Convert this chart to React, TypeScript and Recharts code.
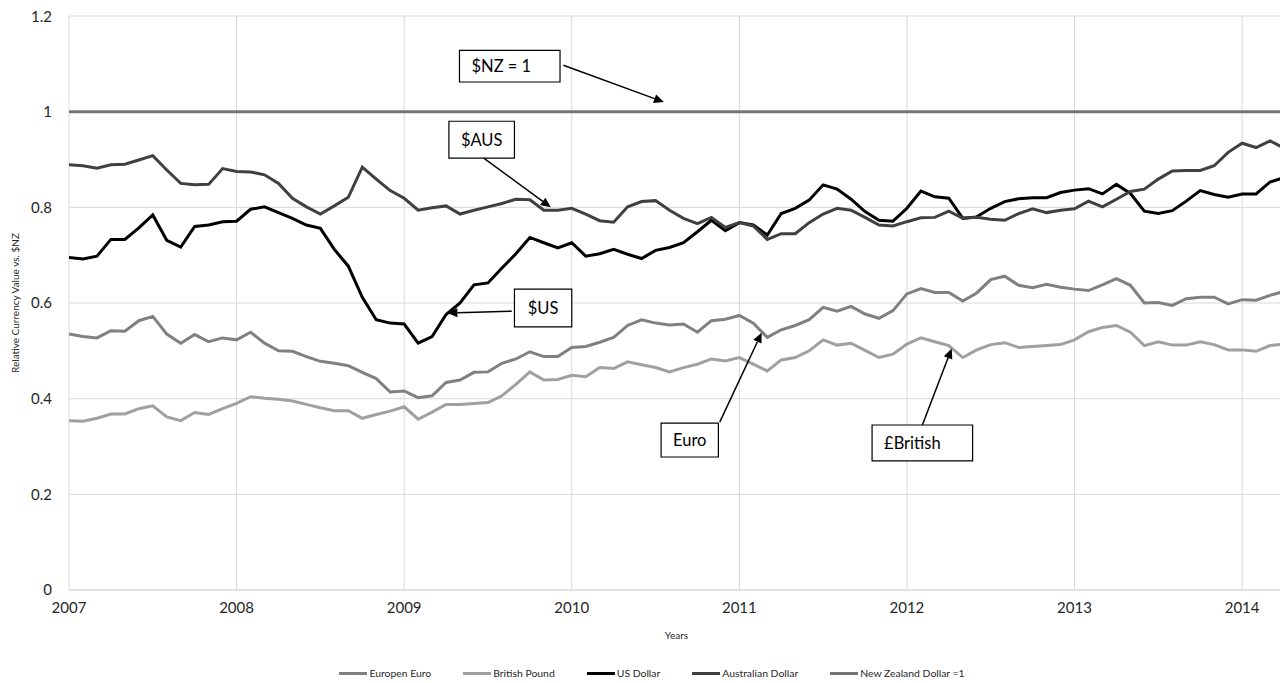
import {
  LineChart,
  Line,
  XAxis,
  YAxis,
  CartesianGrid,
  Legend,
  ReferenceArea,
  ReferenceLine,
} from "recharts";

// monthly rates, Jan 2007 .. Apr 2014 (value of 1 $NZ in each currency)
const euro = [
  0.535, 0.530, 0.527, 0.542, 0.541, 0.563, 0.572, 0.535, 0.516, 0.534, 0.519, 0.527,
  0.523, 0.539, 0.516, 0.500, 0.499, 0.488, 0.478, 0.474, 0.469, 0.455, 0.442, 0.414,
  0.416, 0.402, 0.406, 0.434, 0.439, 0.455, 0.456, 0.474, 0.483, 0.498, 0.488, 0.488,
  0.507, 0.509, 0.518, 0.528, 0.553, 0.565, 0.558, 0.554, 0.556, 0.539, 0.563, 0.566,
  0.574, 0.558, 0.528, 0.544, 0.553, 0.565, 0.591, 0.583, 0.593, 0.577, 0.568, 0.584,
  0.619, 0.630, 0.622, 0.622, 0.604, 0.621, 0.649, 0.656, 0.637, 0.632, 0.639, 0.633,
  0.629, 0.626, 0.638, 0.651, 0.637, 0.600, 0.601, 0.595, 0.609, 0.612, 0.612, 0.598,
  0.607, 0.606, 0.616, 0.624,
];

const pound = [
  0.354, 0.353, 0.359, 0.368, 0.368, 0.379, 0.385, 0.362, 0.354, 0.371, 0.367, 0.379,
  0.390, 0.404, 0.401, 0.399, 0.395, 0.388, 0.381, 0.375, 0.375, 0.359, 0.367, 0.374,
  0.383, 0.357, 0.372, 0.388, 0.388, 0.390, 0.392, 0.406, 0.430, 0.456, 0.439, 0.440,
  0.449, 0.446, 0.465, 0.463, 0.477, 0.471, 0.465, 0.456, 0.465, 0.472, 0.483, 0.479,
  0.486, 0.472, 0.458, 0.481, 0.486, 0.500, 0.523, 0.512, 0.516, 0.501, 0.486, 0.493,
  0.514, 0.527, 0.519, 0.511, 0.486, 0.502, 0.513, 0.517, 0.507, 0.509, 0.511, 0.513,
  0.523, 0.540, 0.549, 0.553, 0.539, 0.511, 0.519, 0.512, 0.512, 0.519, 0.513, 0.502,
  0.502, 0.499, 0.511, 0.514,
];

const usd = [
  0.695, 0.692, 0.698, 0.733, 0.733, 0.757, 0.784, 0.731, 0.717, 0.760, 0.763, 0.770,
  0.771, 0.796, 0.801, 0.789, 0.777, 0.763, 0.756, 0.712, 0.677, 0.612, 0.565, 0.558,
  0.556, 0.516, 0.530, 0.576, 0.600, 0.638, 0.642, 0.673, 0.703, 0.737, 0.726, 0.715,
  0.726, 0.698, 0.703, 0.712, 0.702, 0.693, 0.710, 0.716, 0.726, 0.749, 0.773, 0.751,
  0.768, 0.763, 0.742, 0.787, 0.798, 0.815, 0.847, 0.838, 0.817, 0.791, 0.773, 0.771,
  0.798, 0.834, 0.822, 0.819, 0.777, 0.780, 0.798, 0.812, 0.818, 0.820, 0.820, 0.831,
  0.836, 0.839, 0.828, 0.848, 0.829, 0.792, 0.787, 0.793, 0.813, 0.835, 0.827, 0.821,
  0.828, 0.828, 0.853, 0.862,
];

const aud = [
  0.889, 0.887, 0.882, 0.889, 0.890, 0.899, 0.908, 0.878, 0.850, 0.847, 0.848, 0.881,
  0.875, 0.874, 0.868, 0.850, 0.819, 0.801, 0.786, 0.803, 0.821, 0.884, 0.859, 0.835,
  0.819, 0.794, 0.799, 0.803, 0.786, 0.794, 0.801, 0.808, 0.817, 0.816, 0.794, 0.794,
  0.798, 0.786, 0.772, 0.769, 0.801, 0.812, 0.814, 0.794, 0.777, 0.766, 0.779, 0.758,
  0.768, 0.761, 0.733, 0.745, 0.745, 0.768, 0.786, 0.798, 0.794, 0.779, 0.763, 0.761,
  0.770, 0.778, 0.779, 0.792, 0.777, 0.779, 0.775, 0.773, 0.787, 0.797, 0.789, 0.794,
  0.797, 0.813, 0.801, 0.817, 0.833, 0.838, 0.859, 0.876, 0.877, 0.877, 0.887, 0.915,
  0.934, 0.925, 0.939, 0.924,
];

const nzd = [
  1, 1, 1, 1, 1, 1, 1, 1, 1, 1, 1, 1,
  1, 1, 1, 1, 1, 1, 1, 1, 1, 1, 1, 1,
  1, 1, 1, 1, 1, 1, 1, 1, 1, 1, 1, 1,
  1, 1, 1, 1, 1, 1, 1, 1, 1, 1, 1, 1,
  1, 1, 1, 1, 1, 1, 1, 1, 1, 1, 1, 1,
  1, 1, 1, 1, 1, 1, 1, 1, 1, 1, 1, 1,
  1, 1, 1, 1, 1, 1, 1, 1, 1, 1, 1, 1,
  1, 1, 1, 1,
];

const yearTicks = [2007, 2008, 2009, 2010, 2011, 2012, 2013, 2014];
const valueTicks = [0, 0.2, 0.4, 0.6, 0.8, 1, 1.2];

const series = [
  { key: "euro", name: "Europen Euro", color: "#808080" },
  { key: "pound", name: "British Pound", color: "#a0a0a0" },
  { key: "usd", name: "US Dollar", color: "#000000" },
  { key: "aud", name: "Australian Dollar", color: "#404040" },
  { key: "nzd", name: "New Zealand Dollar =1", color: "#757575" },
];

// callout boxes and arrows, in data units (years, value)
const callouts = [
  { text: "$NZ = 1", x1: 2009.33, x2: 2009.93, y1: 1.062, y2: 1.128, from: [2009.95, 1.097], to: [2010.55, 1.02], align: "left" },
  { text: "$AUS", x1: 2009.267, x2: 2009.658, y1: 0.903, y2: 0.98, from: [2009.475, 0.903], to: [2009.875, 0.8], align: "left" },
  { text: "$US", x1: 2009.658, x2: 2010.0, y1: 0.55, y2: 0.629, from: [2009.642, 0.583], to: [2009.258, 0.579], align: "center" },
  { text: "Euro", x1: 2010.533, x2: 2010.875, y1: 0.278, y2: 0.349, from: [2010.883, 0.351], to: [2011.133, 0.538], align: "center" },
  { text: "£British", x1: 2011.792, x2: 2012.392, y1: 0.27, y2: 0.345, from: [2012.092, 0.345], to: [2012.267, 0.505], align: "left" },
];

const data = euro.map((_, i) => ({
  t: 2007 + i / 12,
  euro: euro[i],
  pound: pound[i],
  usd: usd[i],
  aud: aud[i],
  nzd: nzd[i],
}));

const FONT = "Lato, 'Open Sans', sans-serif";

const Arrow = (props: any) => {
  const { x1, y1, x2, y2 } = props;
  if ([x1, y1, x2, y2].some((v) => typeof v !== "number")) return null;
  const ang = Math.atan2(y2 - y1, x2 - x1);
  const len = 10;
  const w = 4.5;
  const bx = x2 - len * Math.cos(ang);
  const by = y2 - len * Math.sin(ang);
  const px = -Math.sin(ang) * w;
  const py = Math.cos(ang) * w;
  return (
    <g>
      <line x1={x1} y1={y1} x2={bx} y2={by} stroke="#000" strokeWidth={1.5} />
      <polygon
        points={`${x2},${y2} ${bx + px},${by + py} ${bx - px},${by - py}`}
        fill="#000"
      />
    </g>
  );
};

const boxLabel = (text: string, align: string) => (props: any) => {
  const vb = props.viewBox || {};
  const cx = align === "center" ? vb.x + vb.width / 2 : vb.x + 12;
  return (
    <text
      x={cx}
      y={vb.y + vb.height / 2}
      textAnchor={align === "center" ? "middle" : "start"}
      dominantBaseline="central"
      fontSize={16.5}
      fontFamily={FONT}
      fill="#000"
    >
      {text}
    </text>
  );
};

const YLabel = (props: any) => {
  const vb = props.viewBox || {};
  const cx = vb.x + 7;
  const cy = vb.y + vb.height / 2;
  return (
    <text
      x={cx}
      y={cy}
      transform={`rotate(-90 ${cx} ${cy})`}
      textAnchor="middle"
      dominantBaseline="central"
      fontSize={10}
      fontFamily={FONT}
      fill="#262626"
    >
      Relative Currency Value vs. $NZ
    </text>
  );
};

const LegendRow = () => (
  <div
    style={{
      height: 35,
      display: "flex",
      alignItems: "flex-end",
      justifyContent: "center",
      paddingLeft: 44,
      boxSizing: "border-box",
      paddingBottom: 4,
      fontFamily: FONT,
      fontSize: 10.4,
      color: "#262626",
    }}
  >
    {series.map((s) => (
      <div key={s.key} style={{ display: "flex", alignItems: "center", marginRight: 32 }}>
        <span
          style={{ display: "inline-block", width: 28, height: 3, background: s.color, marginRight: 2 }}
        />
        <span>{s.name}</span>
      </div>
    ))}
  </div>
);

export default function App() {
  return (
    <LineChart
      width={1280}
      height={675}
      data={data}
      margin={{ top: 8, right: 4, left: 0, bottom: 0 }}
      style={{ fontFamily: FONT }}
    >
      <CartesianGrid stroke="#d9d9d9" strokeWidth={1} />
      <XAxis
        dataKey="t"
        type="number"
        domain={[2007, 2007 + 87 / 12]}
        ticks={yearTicks}
        allowDataOverflow
        tickLine={false}
        tickSize={0}
        tickMargin={12}
        axisLine={{ stroke: "#d9d9d9" }}
        height={58}
        tick={{ fontSize: 15, fill: "#262626", fontFamily: FONT }}
        label={{ value: "Years", position: "insideBottom", offset: 9, fontSize: 10, fill: "#262626", fontFamily: FONT }}
      />
      <YAxis
        domain={[0, 1.2]}
        ticks={valueTicks}
        width={61}
        axisLine={false}
        tickLine={false}
        tickSize={0}
        tickMargin={17}
        tick={{ fontSize: 15, fill: "#262626", fontFamily: FONT }}
        label={<YLabel />}
      />
      {series.map((s) => (
        <Line
          key={s.key}
          type="linear"
          dataKey={s.key}
          name={s.name}
          stroke={s.color}
          strokeWidth={3}
          dot={false}
          activeDot={false}
          isAnimationActive={false}
        />
      ))}
      {callouts.map((c) => (
        <ReferenceLine
          key={c.text + "-arrow"}
          segment={[
            { x: c.from[0], y: c.from[1] },
            { x: c.to[0], y: c.to[1] },
          ]}
          shape={Arrow}
          ifOverflow="visible"
        />
      ))}
      {callouts.map((c) => (
        <ReferenceArea
          key={c.text}
          x1={c.x1}
          x2={c.x2}
          y1={c.y1}
          y2={c.y2}
          fill="#ffffff"
          fillOpacity={1}
          stroke="#000"
          strokeWidth={1.2}
          ifOverflow="visible"
          label={boxLabel(c.text, c.align)}
        />
      ))}
      <Legend verticalAlign="bottom" height={35} content={<LegendRow />} />
    </LineChart>
  );
}
